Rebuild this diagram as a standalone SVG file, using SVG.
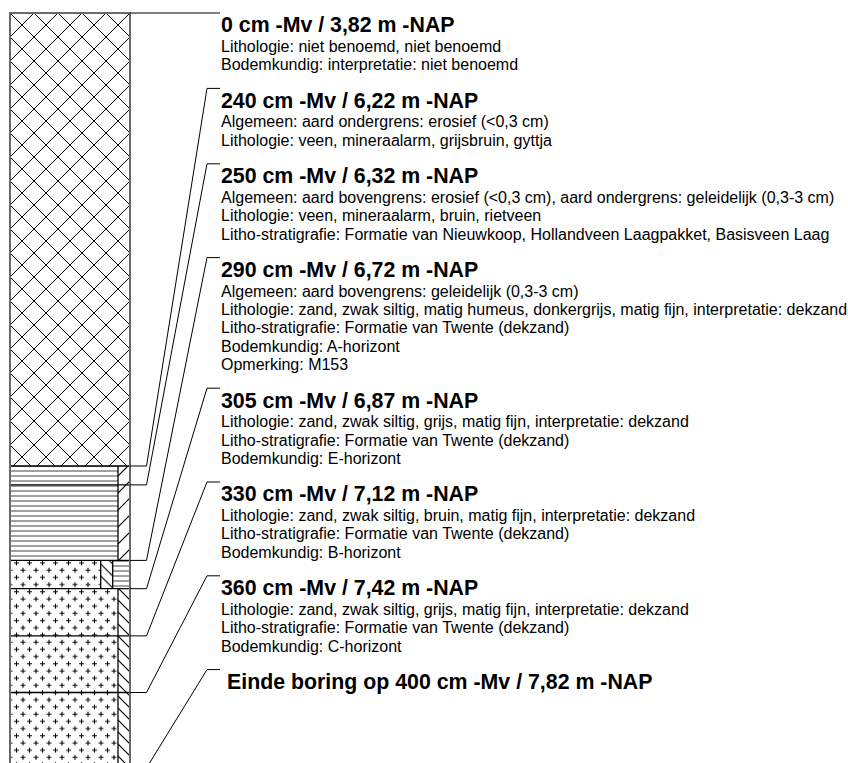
<svg xmlns="http://www.w3.org/2000/svg" width="848" height="763" viewBox="0 0 848 763">
<style>
.t{font-family:"Liberation Sans",Arial,sans-serif;font-size:21.33px;font-weight:bold;fill:#000}
.b{font-family:"Liberation Sans",Arial,sans-serif;font-size:16px;fill:#000}
.ld{fill:none;stroke:#000;stroke-width:1}
.bd{stroke:#000;stroke-width:1.3}
.dv{stroke:#000;stroke-width:1.3}
.frame{fill:none;stroke:#6a6a6a;stroke-width:2}
.hp{stroke:#000;stroke-width:1.15;fill:none}
</style>
<defs>
<pattern id="pCross" patternUnits="userSpaceOnUse" x="10" y="13" width="24" height="24">
<path d="M-2,-2 L26,26 M26,-2 L-2,26" stroke="#000" stroke-width="1" fill="none"/>
</pattern>
<pattern id="pH" patternUnits="userSpaceOnUse" x="0" y="0" width="10" height="5">
<path d="M0,1 L10,1" stroke="#444" stroke-width="1" fill="none"/>
</pattern>
<pattern id="pSlash" patternUnits="userSpaceOnUse" x="118" y="0" width="17" height="17">
<path class="hp" d="M0,17 L17,0 M-4,4 L4,-4 M13,21 L21,13"/>
</pattern>
<pattern id="pBack" patternUnits="userSpaceOnUse" x="118" y="0" width="12" height="12">
<path class="hp" d="M0,0 L12,12 M-3,9 L3,15 M9,-3 L15,3"/>
</pattern>
<pattern id="pBack2" patternUnits="userSpaceOnUse" x="100.7" y="0" width="12" height="12">
<path class="hp" d="M0,0 L12,12 M-3,9 L3,15 M9,-3 L15,3"/>
</pattern>
<pattern id="pPlus" patternUnits="userSpaceOnUse" x="10" y="559.4" width="13" height="14.4">
<path d="M4,3.6 L9,3.6 M6.5,1.1 L6.5,6.1 M-2.5,10.8 L2.5,10.8 M0,8.3 L0,13.3 M10.5,10.8 L15.5,10.8 M13,8.3 L13,13.3" stroke="#000" stroke-width="1.1" fill="none"/>
</pattern>
</defs>
<rect width="848" height="763" fill="#fff"/>

<g id="layer-0">
<rect x="10" y="13" width="120" height="453" fill="url(#pCross)"/>
</g>
<g id="layer-240">
<rect x="10" y="466" width="108" height="18.9" fill="url(#pH)"/>
<rect x="118" y="466" width="12" height="18.9" fill="url(#pSlash)"/>
</g>
<g id="layer-250">
<rect x="10" y="484.9" width="108" height="75.5" fill="url(#pH)"/>
<rect x="118" y="484.9" width="12" height="75.5" fill="url(#pSlash)"/>
</g>
<g id="layer-290">
<rect x="10" y="560.4" width="90.7" height="28.3" fill="url(#pPlus)"/>
<rect x="100.7" y="560.4" width="12" height="28.3" fill="url(#pBack2)"/>
<rect x="112.7" y="560.4" width="17.3" height="28.3" fill="url(#pH)"/>
<line class="dv" x1="100.7" y1="560.4" x2="100.7" y2="588.7"/>
<line class="dv" x1="112.7" y1="560.4" x2="112.7" y2="588.7"/>
</g>
<g id="layer-305">
<rect x="10" y="588.7" width="108" height="47.2" fill="url(#pPlus)"/>
<rect x="118" y="588.7" width="12" height="47.2" fill="url(#pBack)"/>
</g>
<g id="layer-330">
<rect x="10" y="635.9" width="108" height="56.6" fill="url(#pPlus)"/>
<rect x="118" y="635.9" width="12" height="56.6" fill="url(#pBack)"/>
</g>
<g id="layer-360">
<rect x="10" y="692.5" width="108" height="75.5" fill="url(#pPlus)"/>
<rect x="118" y="692.5" width="12" height="75.5" fill="url(#pBack)"/>
</g>
<g id="column-lines">
<line class="dv" x1="118" y1="466" x2="118" y2="560.4"/>
<line class="dv" x1="118" y1="588.7" x2="118" y2="770"/>
<line class="bd" x1="10" y1="466" x2="130" y2="466"/>
<line class="bd" x1="10" y1="484.9" x2="130" y2="484.9"/>
<line class="bd" x1="10" y1="560.4" x2="130" y2="560.4"/>
<line class="bd" x1="10" y1="588.7" x2="130" y2="588.7"/>
<line class="bd" x1="10" y1="635.9" x2="130" y2="635.9"/>
<line class="bd" x1="10" y1="692.5" x2="130" y2="692.5"/>
<path class="frame" d="M10,770 L10,13 L130,13 L130,770"/>
</g>

<g id="connectors">
<polyline class="ld" points="130,13 220,13"/>
<polyline class="ld" points="130,466 146.5,466 207,88.4 220,88.4"/>
<polyline class="ld" points="130,484.9 146.5,484.9 207,163.8 220,163.8"/>
<polyline class="ld" points="130,560.4 146.5,560.4 207,257.6 220,257.6"/>
<polyline class="ld" points="130,588.7 146.5,588.7 207,388.2 220,388.2"/>
<polyline class="ld" points="130,635.9 146.5,635.9 207,482 220,482"/>
<polyline class="ld" points="130,692.5 146.5,692.5 207,575.8 220,575.8"/>
<polyline class="ld" points="146.5,768 207,669.6 220,669.6"/>
</g>

<g id="label-0">
<text class="t" x="221" y="32.4">0 cm -Mv / 3,82 m -NAP</text>
<text class="b" x="221" y="52">Lithologie: niet benoemd, niet benoemd</text>
<text class="b" x="221" y="70.4">Bodemkundig: interpretatie: niet benoemd</text>
</g>
<g id="label-240">
<text class="t" x="221" y="107.8">240 cm -Mv / 6,22 m -NAP</text>
<text class="b" x="221" y="127.4">Algemeen: aard ondergrens: erosief (&lt;0,3 cm)</text>
<text class="b" x="221" y="145.8">Lithologie: veen, mineraalarm, grijsbruin, gyttja</text>
</g>
<g id="label-250">
<text class="t" x="221" y="183.2">250 cm -Mv / 6,32 m -NAP</text>
<text class="b" x="221" y="202.8">Algemeen: aard bovengrens: erosief (&lt;0,3 cm), aard ondergrens: geleidelijk (0,3-3 cm)</text>
<text class="b" x="221" y="221.2">Lithologie: veen, mineraalarm, bruin, rietveen</text>
<text class="b" x="221" y="239.6">Litho-stratigrafie: Formatie van Nieuwkoop, Hollandveen Laagpakket, Basisveen Laag</text>
</g>
<g id="label-290">
<text class="t" x="221" y="277">290 cm -Mv / 6,72 m -NAP</text>
<text class="b" x="221" y="296.6">Algemeen: aard bovengrens: geleidelijk (0,3-3 cm)</text>
<text class="b" x="221" y="315">Lithologie: zand, zwak siltig, matig humeus, donkergrijs, matig fijn, interpretatie: dekzand</text>
<text class="b" x="221" y="333.4">Litho-stratigrafie: Formatie van Twente (dekzand)</text>
<text class="b" x="221" y="351.8">Bodemkundig: A-horizont</text>
<text class="b" x="221" y="370.2">Opmerking: M153</text>
</g>
<g id="label-305">
<text class="t" x="221" y="407.6">305 cm -Mv / 6,87 m -NAP</text>
<text class="b" x="221" y="427.2">Lithologie: zand, zwak siltig, grijs, matig fijn, interpretatie: dekzand</text>
<text class="b" x="221" y="445.6">Litho-stratigrafie: Formatie van Twente (dekzand)</text>
<text class="b" x="221" y="464">Bodemkundig: E-horizont</text>
</g>
<g id="label-330">
<text class="t" x="221" y="501.4">330 cm -Mv / 7,12 m -NAP</text>
<text class="b" x="221" y="521">Lithologie: zand, zwak siltig, bruin, matig fijn, interpretatie: dekzand</text>
<text class="b" x="221" y="539.4">Litho-stratigrafie: Formatie van Twente (dekzand)</text>
<text class="b" x="221" y="557.8">Bodemkundig: B-horizont</text>
</g>
<g id="label-360">
<text class="t" x="221" y="595.2">360 cm -Mv / 7,42 m -NAP</text>
<text class="b" x="221" y="614.8">Lithologie: zand, zwak siltig, grijs, matig fijn, interpretatie: dekzand</text>
<text class="b" x="221" y="633.2">Litho-stratigrafie: Formatie van Twente (dekzand)</text>
<text class="b" x="221" y="651.6">Bodemkundig: C-horizont</text>
</g>
<g id="label-end">
<text class="t" x="227" y="689">Einde boring op 400 cm -Mv / 7,82 m -NAP</text>
</g>
</svg>
